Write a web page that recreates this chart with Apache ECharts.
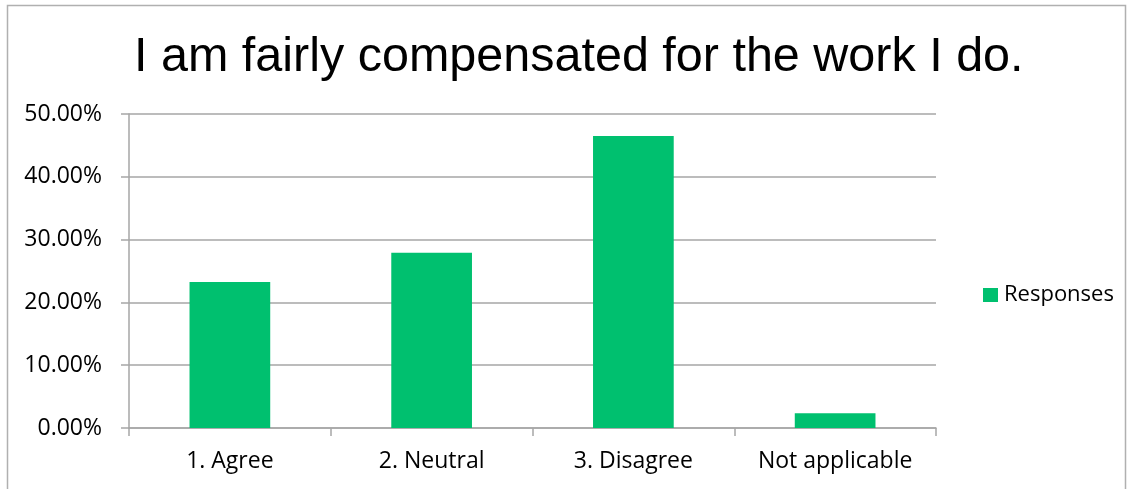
<!DOCTYPE html>
<html>
<head>
<meta charset="utf-8">
<style>
  html, body { margin: 0; padding: 0; background: #ffffff; }
  #chart { width: 1127px; height: 489px; }
</style>
<script src="https://cdn.jsdelivr.net/npm/echarts@6/dist/echarts.min.js"></script>
</head>
<body>
<div id="chart"></div>
<script>
// Survey answers, share of respondents
const categories = ['1. Agree', '2. Neutral', '3. Disagree', 'Not applicable'];
const responses = [0.2326, 0.2791, 0.4651, 0.0233];
const seriesName = 'Responses';
const titleText = 'I am fairly compensated for the work I do.';

const labelFont = '"Open Sans", "Noto Sans", sans-serif';
const gray = '#a6a6a6';

const chart = echarts.init(document.getElementById('chart'), null, { renderer: 'canvas' });

chart.setOption({
  animation: false,
  backgroundColor: '#ffffff',
  title: {
    text: titleText,
    left: 129,
    top: 28,
    textStyle: {
      fontFamily: '"Liberation Sans", Arial, sans-serif',
      fontSize: 48.5,
      fontWeight: 'normal',
      color: '#000000'
    }
  },
  legend: {
    data: [seriesName],
    orient: 'vertical',
    left: 978,
    top: 279,
    itemWidth: 15,
    itemHeight: 14,
    itemGap: 8,
    icon: 'rect',
    textStyle: { fontFamily: labelFont, fontSize: 22, color: '#000000', padding: [0, 0, 0, 1] }
  },
  grid: { left: 129, right: 191, top: 114, bottom: 61, containLabel: false },
  xAxis: {
    type: 'category',
    data: categories,
    axisLine: { lineStyle: { color: gray, width: 1.5 } },
    axisTick: { show: true, length: 8, alignWithLabel: false, lineStyle: { color: gray, width: 1.5 } },
    axisLabel: { fontFamily: labelFont, fontSize: 23, color: '#000000', margin: 22 },
    splitLine: { show: false }
  },
  yAxis: {
    type: 'value',
    min: 0,
    max: 0.5,
    interval: 0.1,
    axisLine: { show: true, lineStyle: { color: gray, width: 1.5 } },
    axisTick: { show: true, length: 8, lineStyle: { color: gray, width: 1.5 } },
    axisLabel: {
      fontFamily: labelFont, fontSize: 23, color: '#000000', margin: 27,
      formatter: v => (v * 100).toFixed(2) + '%'
    },
    splitLine: { show: true, lineStyle: { color: gray, width: 1.5 } }
  },
  series: [{
    name: seriesName,
    type: 'bar',
    data: responses,
    barWidth: '40%',
    itemStyle: { color: '#00c06f' }
  }],
  graphic: [{
    type: 'rect',
    silent: true,
    shape: { x: 7.5, y: 5.5, width: 1118, height: 500 },
    style: { fill: 'none', stroke: '#b0b0b0', lineWidth: 1.5 }
  }]
});
</script>
</body>
</html>
